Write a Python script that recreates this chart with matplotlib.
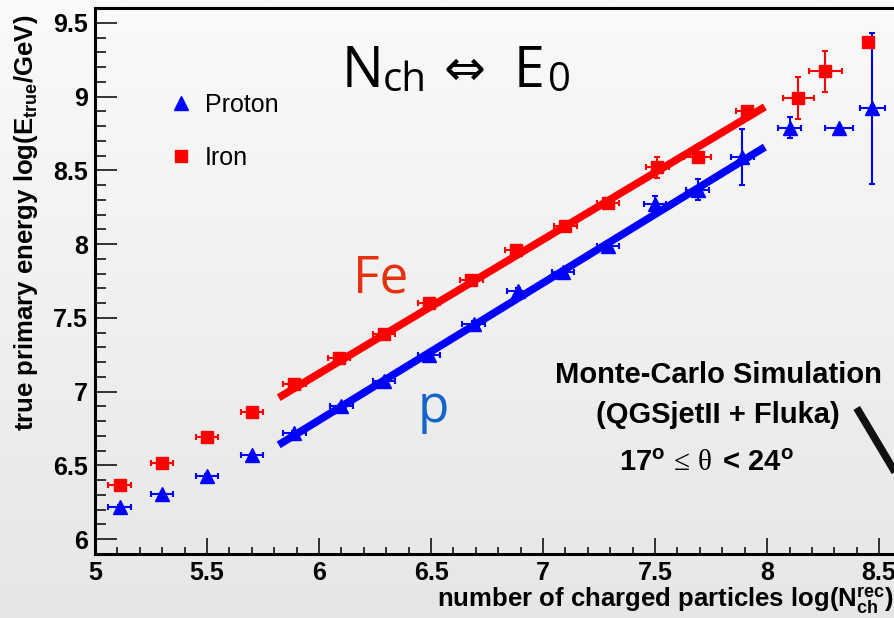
import numpy as np
import matplotlib
matplotlib.use('Agg')
import matplotlib.pyplot as plt
from matplotlib.lines import Line2D
from matplotlib.ticker import MultipleLocator

plt.rcParams['font.family'] = ['Liberation Sans', 'DejaVu Sans']
plt.rcParams['mathtext.fontset'] = 'custom'
plt.rcParams['mathtext.rm'] = 'Liberation Serif'
plt.rcParams['mathtext.it'] = 'Liberation Serif'
plt.rcParams['mathtext.bf'] = 'Liberation Sans:bold'

# reconstructed energy vs charged particle number, per primary type
proton_x = [5.11, 5.30, 5.50, 5.70, 5.89, 6.10, 6.29, 6.49, 6.69, 6.89, 7.09, 7.29, 7.50, 7.69, 7.89, 8.10, 8.32, 8.47]
proton_y = [6.22, 6.305, 6.43, 6.57, 6.72, 6.90, 7.07, 7.25, 7.46, 7.68, 7.81, 7.99, 8.27, 8.37, 8.59, 8.79, 8.79, 8.92]
proton_xerr = [0.05, 0.05, 0.05, 0.05, 0.05, 0.05, 0.05, 0.05, 0.05, 0.05, 0.05, 0.05, 0.05, 0.05, 0.05, 0.05, 0.063, 0.055]
proton_yerr = [0.01, 0.01, 0.01, 0.01, 0.015, 0.015, 0.015, 0.02, 0.02, 0.02, 0.02, 0.03, 0.055, 0.068, 0.19, 0.07, 0.0, 0.51]

iron_x = [5.11, 5.30, 5.50, 5.70, 5.89, 6.09, 6.29, 6.49, 6.68, 6.88, 7.10, 7.29, 7.51, 7.69, 7.91, 8.14, 8.26, 8.45]
iron_y = [6.37, 6.52, 6.69, 6.86, 7.05, 7.23, 7.39, 7.60, 7.76, 7.96, 8.12, 8.28, 8.52, 8.59, 8.90, 8.99, 9.17, 9.37]
iron_xerr = [0.05, 0.05, 0.05, 0.05, 0.05, 0.05, 0.05, 0.05, 0.05, 0.05, 0.05, 0.05, 0.05, 0.06, 0.05, 0.07, 0.075, 0.0]
iron_yerr = [0.01, 0.01, 0.01, 0.01, 0.01, 0.015, 0.015, 0.015, 0.02, 0.02, 0.02, 0.02, 0.072, 0.02, 0.02, 0.14, 0.136, 0.0]

# linear fits log(E) = a + b*log(Nch) over the fit range
fit_range = [5.82, 7.99]
fe_fit = (1.675, 0.908)
p_fit = (1.227, 0.930)

# edge of the scatter cloud from the neighbouring panel
streak_x = [8.40, 8.62]
streak_y = [6.89, 6.33]

fig = plt.figure(figsize=(8.95, 6.18), dpi=100)

# grey canvas gradient
bg = fig.add_axes([0, 0, 1, 1], zorder=-1)
grad = np.linspace(250, 230, 256) / 255.0
bg.imshow(np.dstack([grad, grad, grad]).reshape(256, 1, 3), aspect='auto', extent=[0, 1, 0, 1])
bg.axis('off')

ax = fig.add_axes([95 / 895, 64 / 618, 811 / 895, 546 / 618])
ax.set_facecolor('none')
ax.set_xlim(5, 8.62)
ax.set_ylim(5.9, 9.6)

for s in ax.spines.values():
    s.set_linewidth(2.2)

ax.xaxis.set_major_locator(MultipleLocator(0.5))
ax.xaxis.set_minor_locator(MultipleLocator(0.1))
ax.yaxis.set_major_locator(MultipleLocator(0.5))
ax.yaxis.set_minor_locator(MultipleLocator(0.1))
ax.tick_params(which='both', direction='in', top=False, right=False, width=1.1, labelsize=18)
ax.tick_params(axis='x', which='major', length=11.5, pad=5)
ax.tick_params(axis='x', which='minor', length=5)
ax.tick_params(axis='y', which='major', length=16, pad=5)
ax.tick_params(axis='y', which='minor', length=8)
ax.xaxis.set_major_formatter(matplotlib.ticker.FormatStrFormatter('%g'))
ax.yaxis.set_major_formatter(matplotlib.ticker.FormatStrFormatter('%g'))
for lab in ax.get_xticklabels() + ax.get_yticklabels():
    lab.set_fontweight('bold')

ax.errorbar(proton_x, proton_y, xerr=proton_xerr, yerr=proton_yerr, fmt='^', color='blue',
            ms=10, capsize=2.2, elinewidth=1.5, capthick=1.5, zorder=3)
ax.errorbar(iron_x, iron_y, xerr=iron_xerr, yerr=iron_yerr, fmt='s', color='red',
            ms=8, capsize=2.2, elinewidth=1.5, capthick=1.5, zorder=3)

fx = np.array(fit_range)
ax.plot(fx, fe_fit[0] + fe_fit[1] * fx, color='red', lw=5.5, solid_capstyle='butt', zorder=4)
ax.plot(fx, p_fit[0] + p_fit[1] * fx, color='blue', lw=5.5, solid_capstyle='butt', zorder=4)

ax.plot(streak_x, streak_y, color='#111111', lw=5.5, solid_capstyle='butt', zorder=2)

ax.set_xlabel(r'number of charged particles log($\mathbf{N^{rec}_{ch}}$)', fontsize=18.5, fontweight='bold')
ax.xaxis.set_label_coords(0.984, -0.058)
ax.xaxis.label.set_ha('right')
ax.set_ylabel(r'true primary energy log($\mathbf{E_{true}}$/GeV)', fontsize=18.5, fontweight='bold')
ax.yaxis.set_label_coords(-0.068, 0.987)
ax.yaxis.label.set_ha('right')

handles = [Line2D([], [], marker='^', color='blue', ls='none', ms=10),
           Line2D([], [], marker='s', color='red', ls='none', ms=8)]
ax.legend(handles, ['Proton', 'Iron'], loc='upper left', bbox_to_anchor=(170 / 895, 1 - 93 / 618),
          bbox_transform=fig.transFigure, frameon=False, fontsize=18, handlelength=0.9,
          handletextpad=0.5, labelspacing=1.15, borderpad=0, borderaxespad=0)

# N_ch <=> E_0
title_font = ['Open Sans', 'DejaVu Sans']
ax.text(6.10, 9.062, 'N', fontsize=40, family=title_font, va='baseline')
ax.text(6.286, 9.035, 'ch', fontsize=29, family=title_font, va='baseline')
ax.text(6.555, 9.177, '\u21d4', fontsize=36, family='DejaVu Sans', va='center')
ax.text(6.87, 9.062, 'E', fontsize=40, family=title_font, va='baseline')
ax.text(7.022, 9.035, '0', fontsize=29, family=title_font, va='baseline')

ax.text(6.15, 7.67, 'Fe', fontsize=37, family=title_font, color='#e6300f', va='baseline')
ax.text(6.44, 6.794, 'p', fontsize=37, family=title_font, color='#1464cc', va='baseline')

ax.text(7.781, 7.059, 'Monte-Carlo Simulation', fontsize=21, fontweight='bold', ha='center', va='baseline')
ax.text(7.781, 6.788, '(QGSjetII + Fluka)', fontsize=21, fontweight='bold', ha='center', va='baseline')
ax.text(7.730, 6.462, r'$\mathbf{17^{o}}\,\leq\,\theta\;\mathbf{<}\,\mathbf{24^{o}}$', fontsize=21,
        ha='center', va='baseline')

fig.savefig('out.png', dpi=100)
